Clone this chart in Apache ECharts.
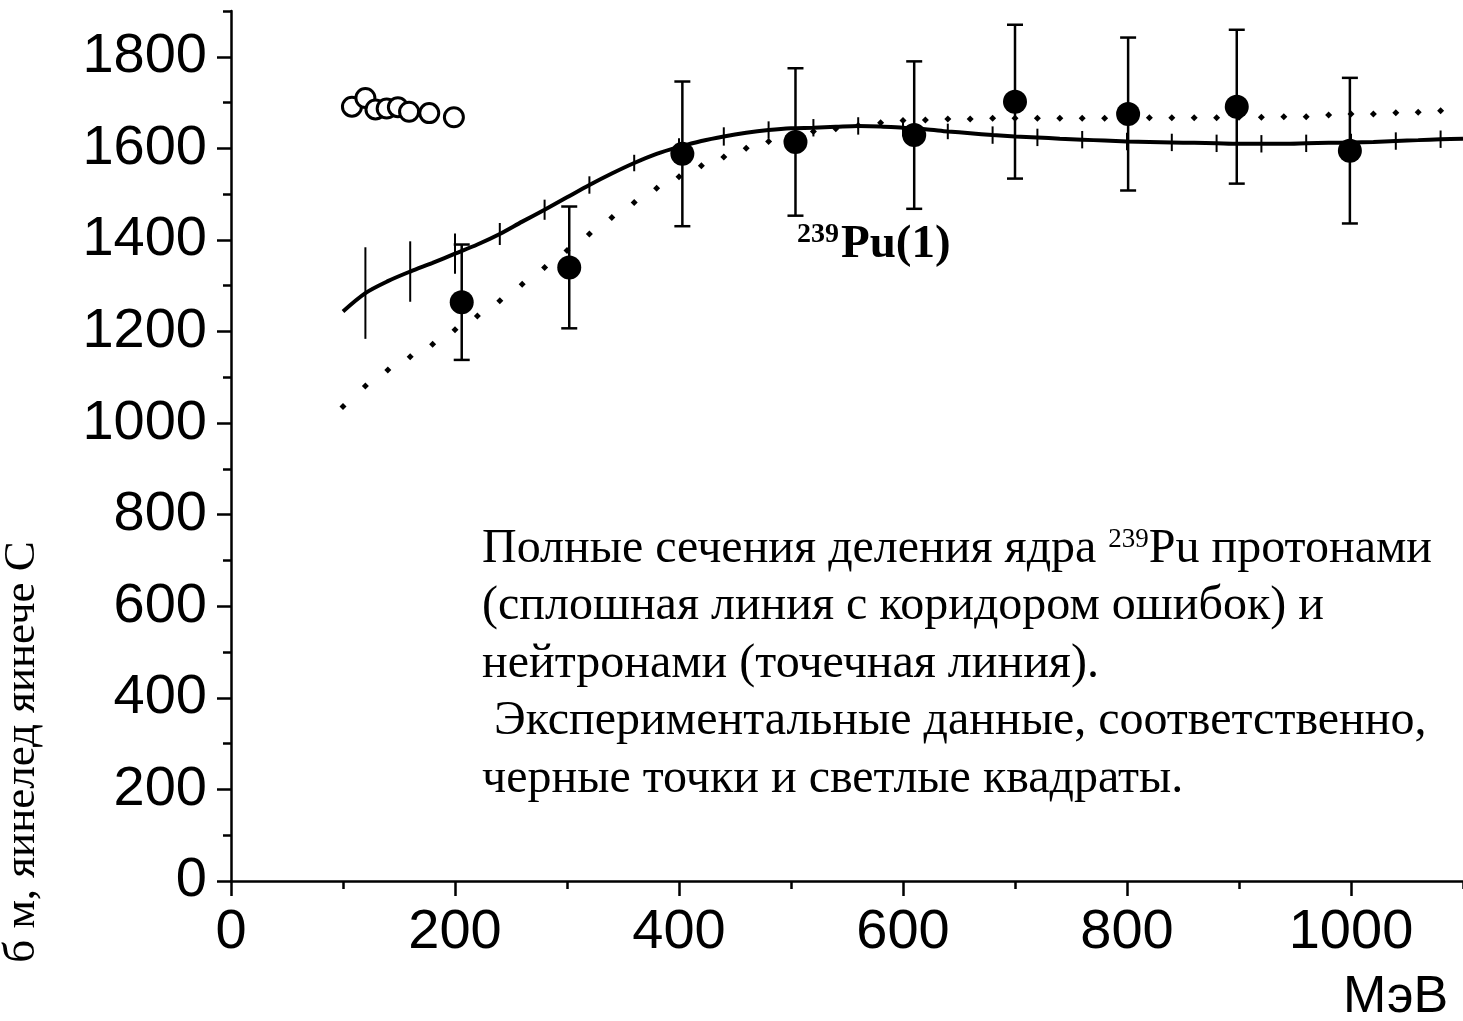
<!DOCTYPE html>
<html>
<head>
<meta charset="utf-8">
<script src="https://cdn.jsdelivr.net/npm/echarts@6/dist/echarts.min.js"></script>
<style>
  html, body { margin: 0; padding: 0; background: #ffffff; }
  #chart { width: 1463px; height: 1021px; }
</style>
</head>
<body>
<div id="chart"></div>
<script>
// Axis tick values
const xMajorTicks = [0, 200, 400, 600, 800, 1000];
const yMajorTicks = [0, 200, 400, 600, 800, 1000, 1200, 1400, 1600, 1800];

// Experimental proton data (black points) with error bars, mb
const protonExpX = [206, 302, 403, 504, 610, 700, 801, 898, 999];
const protonExpY = [1264, 1340, 1588, 1614, 1629, 1702, 1675, 1691, 1595];
const protonExpErr = [126, 133, 158, 161, 161, 168, 167, 168, 159];

// Experimental neutron data (open circles)
const neutronExpX = [108, 120, 129, 139, 149, 159, 177, 199];
const neutronExpY = [1691, 1710, 1685, 1687, 1690, 1680, 1677, 1668];

// Calculated proton-induced fission cross-section (solid line)
const protonCalcX = [100, 120, 140, 160, 180, 200, 220, 240, 260, 280, 300, 320, 340, 360, 380,
  400, 420, 440, 460, 480, 500, 520, 540, 560, 580, 600, 620, 640, 660, 680, 700, 720, 740,
  760, 780, 800, 820, 840, 860, 880, 900, 920, 940, 960, 980, 1000, 1020, 1040, 1060, 1080, 1100];
const protonCalcY = [1244, 1284, 1310, 1331, 1350, 1370, 1390, 1413, 1440, 1466, 1493, 1520, 1545, 1568, 1588,
  1603, 1616, 1626, 1634, 1640, 1644, 1645, 1647, 1649, 1648, 1645, 1642, 1637, 1633, 1629, 1626, 1624, 1621,
  1619, 1617, 1615, 1614, 1613, 1612, 1611, 1610, 1610, 1610, 1611, 1612, 1613, 1614, 1616, 1618, 1620, 1621];

// Error corridor of the calculation: energies and half-widths
const corridorX = [120, 160, 200, 240, 280, 320, 360, 400, 440, 480, 520, 560, 600, 640, 680, 720,
  760, 800, 840, 880, 920, 960, 1000, 1040, 1080];
const corridorHalf = [100, 66, 44, 24, 22, 19, 18, 19, 20, 19, 19, 19, 19, 17, 19, 19,
  19, 19, 19, 19, 19, 19, 19, 19, 19];

// Calculated neutron-induced fission cross-section (dotted line)
const neutronCalcX = [100, 120, 140, 160, 180, 200, 220, 240, 260, 280, 300, 320, 340, 360, 380,
  400, 420, 440, 460, 480, 500, 520, 540, 560, 580, 600, 620, 640, 660, 680, 700, 720, 740,
  760, 780, 800, 820, 840, 860, 880, 900, 920, 940, 960, 980, 1000, 1020, 1040, 1060, 1080];
const neutronCalcY = [1036, 1081, 1116, 1145, 1172, 1204, 1234, 1267, 1303, 1340, 1377, 1413, 1449, 1482, 1513,
  1538, 1562, 1581, 1600, 1615, 1628, 1637, 1643, 1650, 1656, 1661, 1662, 1664, 1664, 1666, 1666, 1666, 1666,
  1666, 1666, 1666, 1667, 1667, 1667, 1667, 1668, 1668, 1669, 1669, 1673, 1675, 1675, 1678, 1679, 1682];

const SERIF = '"Liberation Serif", "Times New Roman", serif';
const SANS = '"Liberation Sans", Arial, sans-serif';

const zip = (xs, ys) => xs.map((x, i) => [x, ys[i]]);

const corridorData = corridorX.map((x, i) => [x, protonCalcY[protonCalcX.indexOf(x)], corridorHalf[i]]);
const expErrData = protonExpX.map((x, i) => [x, protonExpY[i], protonExpErr[i]]);

const chart = echarts.init(document.getElementById('chart'), null, { renderer: 'canvas' });

const axisLineStyle = { color: '#000', width: 2.5 };
const plainNumber = (v) => String(v);
const bodyText = { fontFamily: SERIF, fontSize: 48, lineHeight: 48, fill: '#000' };

chart.setOption({
  animation: false,
  backgroundColor: '#ffffff',
  grid: { left: 231, top: 11, width: 1240, height: 870, containLabel: false },
  xAxis: [
    {
      type: 'value', min: 0, max: 1100, interval: 100,
      axisLine: { show: true, lineStyle: axisLineStyle },
      axisTick: { show: true, inside: false, length: 8, lineStyle: axisLineStyle },
      axisLabel: { show: false },
      splitLine: { show: false }
    },
    {
      type: 'value', min: 0, max: 1100, interval: 200, position: 'bottom',
      axisLine: { show: false },
      axisTick: { show: true, inside: false, length: 15, lineStyle: axisLineStyle, customValues: xMajorTicks },
      axisLabel: { show: true, customValues: xMajorTicks, formatter: plainNumber, fontFamily: SANS, fontSize: 56, color: '#000', margin: 24 },
      splitLine: { show: false }
    }
  ],
  yAxis: [
    {
      type: 'value', min: 0, max: 1900, interval: 100,
      axisLine: { show: true, lineStyle: axisLineStyle },
      axisTick: { show: true, inside: false, length: 8, lineStyle: axisLineStyle },
      axisLabel: { show: false },
      splitLine: { show: false }
    },
    {
      type: 'value', min: 0, max: 1900, interval: 200, position: 'left',
      axisLine: { show: false },
      axisTick: { show: true, inside: false, length: 14, lineStyle: axisLineStyle, customValues: yMajorTicks },
      axisLabel: { show: true, customValues: yMajorTicks, formatter: plainNumber, fontFamily: SANS, fontSize: 56, color: '#000', margin: 24 },
      splitLine: { show: false }
    }
  ],
  series: [
    {
      name: 'neutron calc',
      type: 'scatter',
      symbol: 'diamond',
      symbolSize: 7,
      itemStyle: { color: '#000', opacity: 1 },
      data: zip(neutronCalcX, neutronCalcY),
      z: 2
    },
    {
      name: 'proton calc',
      type: 'line',
      smooth: 0.3,
      showSymbol: false,
      lineStyle: { color: '#000', width: 4 },
      data: zip(protonCalcX, protonCalcY),
      z: 3
    },
    {
      name: 'proton calc corridor',
      type: 'custom',
      renderItem: function (params, api) {
        const x = api.value(0), y = api.value(1), h = api.value(2);
        const p1 = api.coord([x, y + h]);
        const p2 = api.coord([x, y - h]);
        return {
          type: 'line',
          shape: { x1: p1[0], y1: p1[1], x2: p2[0], y2: p2[1] },
          style: { stroke: '#000', lineWidth: 2 }
        };
      },
      data: corridorData,
      z: 3
    },
    {
      name: 'proton exp errors',
      type: 'custom',
      renderItem: function (params, api) {
        const x = api.value(0), y = api.value(1), e = api.value(2);
        const top = api.coord([x, y + e]);
        const bot = api.coord([x, y - e]);
        const cap = 8;
        const st = { stroke: '#000', lineWidth: 2.5 };
        return {
          type: 'group',
          children: [
            { type: 'line', shape: { x1: top[0], y1: top[1], x2: bot[0], y2: bot[1] }, style: st },
            { type: 'line', shape: { x1: top[0] - cap, y1: top[1], x2: top[0] + cap, y2: top[1] }, style: st },
            { type: 'line', shape: { x1: bot[0] - cap, y1: bot[1], x2: bot[0] + cap, y2: bot[1] }, style: st }
          ]
        };
      },
      data: expErrData,
      z: 4
    },
    {
      name: 'proton exp',
      type: 'scatter',
      symbol: 'circle',
      symbolSize: 24,
      itemStyle: { color: '#000', opacity: 1 },
      data: zip(protonExpX, protonExpY),
      z: 5
    },
    {
      name: 'neutron exp',
      type: 'scatter',
      symbol: 'circle',
      symbolSize: 19,
      itemStyle: { color: '#fff', borderColor: '#000', borderWidth: 3, opacity: 1 },
      data: zip(neutronExpX, neutronExpY),
      z: 5
    }
  ],
  graphic: [
    {
      type: 'text', left: 797, top: 221, z: 10,
      style: {
        text: '{sup|239}{big|Pu(1)}',
        rich: {
          sup: { fontFamily: SERIF, fontWeight: 'bold', fontSize: 28, lineHeight: 47, verticalAlign: 'top', fill: '#000', padding: [0, 2, 18, 0] },
          big: { fontFamily: SERIF, fontWeight: 'bold', fontSize: 47, lineHeight: 47, fill: '#000' }
        }
      }
    },
    {
      type: 'text', left: 1343, top: 972, z: 10,
      style: { text: 'МэВ', fontFamily: SANS, fontSize: 52, fill: '#000' }
    },
    {
      type: 'text', x: 22, y: 752, rotation: Math.PI / 2, z: 10,
      style: { text: 'б м, яинелед яинече С', fontFamily: SERIF, fontSize: 45, fill: '#000', align: 'center', verticalAlign: 'middle' }
    },
    {
      type: 'text', left: 482, top: 525, z: 10,
      style: {
        text: '{t|Полные сечения деления ядра }{s|239}{t|Pu протонами}',
        rich: {
          t: bodyText,
          s: { fontFamily: SERIF, fontSize: 27, lineHeight: 48, fill: '#000', padding: [0, 0, 19, 0] }
        }
      }
    },
    {
      type: 'text', left: 482, top: 582, z: 10,
      style: Object.assign({ text: '(сплошная линия с коридором ошибок) и' }, bodyText)
    },
    {
      type: 'text', left: 482, top: 640, z: 10,
      style: Object.assign({ text: 'нейтронами (точечная линия).' }, bodyText)
    },
    {
      type: 'text', left: 482, top: 697, z: 10,
      style: Object.assign({ text: ' Экспериментальные данные, соответственно,' }, bodyText)
    },
    {
      type: 'text', left: 482, top: 755, z: 10,
      style: Object.assign({ text: 'черные точки и светлые квадраты.' }, bodyText)
    }
  ]
});
</script>
</body>
</html>
